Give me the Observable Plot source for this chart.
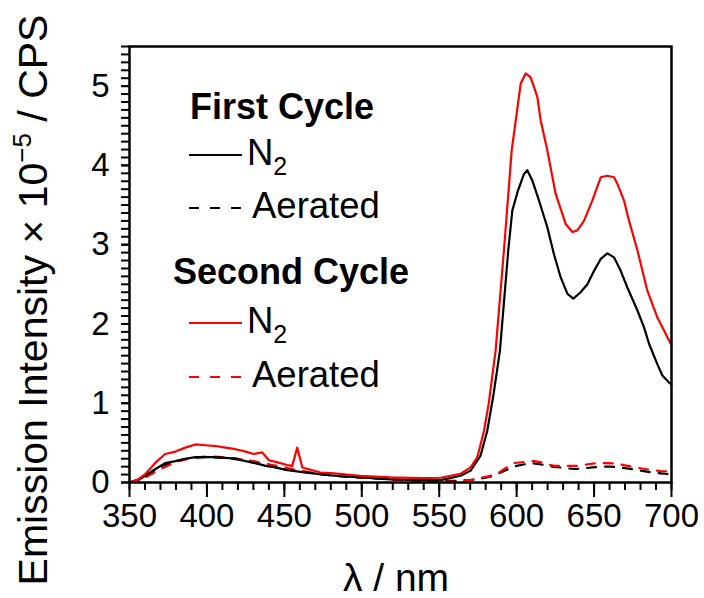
<!DOCTYPE html>
<html><head><meta charset="utf-8">
<script src="https://cdn.jsdelivr.net/npm/d3@7"></script>
<script src="https://cdn.jsdelivr.net/npm/@observablehq/plot@0.6"></script>
<style>
body{margin:0;background:#fff;}
svg{font-family:"Liberation Sans",Arial,sans-serif;}
</style>
</head><body><div id="chart"></div>
<script>
// First cycle, N2 (black solid)
const wlFirstN2 = [350,355,360,366.8,373,379.7,386,392.6,399,405.6,412,418.5,425,431.4,437.9,444.3,450.8,460.5,480,499,518.6,538,551,563.8,570.3,576.7,581,585,589.2,594.6,597.2,600.8,604.7,606.9,610.1,614.4,619.8,624.1,628.4,632.8,636.6,641.3,645.7,650,654.3,658.6,662.9,667.2,671.5,678,682.2,685.5,690.9,694.1,698.4,700];
const valFirstN2 = [0,0.02,0.085,0.17,0.245,0.27,0.30,0.32,0.32,0.32,0.31,0.30,0.27,0.245,0.21,0.19,0.16,0.135,0.09,0.065,0.04,0.03,0.03,0.085,0.15,0.34,0.65,1.1,1.66,2.93,3.43,3.68,3.89,3.94,3.81,3.56,3.22,2.88,2.59,2.38,2.32,2.40,2.50,2.67,2.82,2.89,2.84,2.67,2.46,2.17,1.96,1.75,1.49,1.35,1.26,1.24];

// First cycle, aerated (black dashed)
const wlFirstAir = [350,360,370,380,390,400,410,420,430,440,450,460,470,480,490,500,510,520,530,540,550,560,570,580,585.3,590,596,600,609,615,624,630,637,642,648.9,655,660.7,667,674.7,680,687.6,693,698.4,700];
const valFirstAir = [0,0.07,0.2,0.27,0.31,0.32,0.31,0.29,0.25,0.21,0.17,0.14,0.11,0.09,0.07,0.06,0.05,0.04,0.03,0.02,0.02,0.02,0.03,0.06,0.085,0.13,0.18,0.21,0.245,0.23,0.198,0.185,0.17,0.175,0.19,0.20,0.20,0.19,0.169,0.15,0.126,0.115,0.106,0.10];

// Second cycle, N2 (red solid)
const wlSecondN2 = [350,355,360.3,366.8,373,379.7,386,392.6,399,405.6,412,418.5,425,430.3,435.7,440,444.3,451.9,455.1,458.3,461.6,467,473.4,480,499,518.6,538,551,557.4,563.8,570.3,574.6,576.7,578.9,582,586.4,591.8,596.8,600,602.6,605.8,609,611.2,613.4,615.5,619.8,625.2,631.7,636,639.2,643.5,648.9,654.3,658.6,662.9,665,669.3,672.6,678,684.4,690.9,699.5,700];
const valSecondN2 = [0,0.03,0.11,0.25,0.36,0.39,0.44,0.48,0.47,0.46,0.44,0.42,0.39,0.36,0.38,0.28,0.26,0.22,0.21,0.44,0.19,0.16,0.126,0.12,0.085,0.065,0.055,0.06,0.085,0.11,0.19,0.32,0.48,0.65,1.0,1.66,2.93,4.19,4.65,5.03,5.16,5.11,4.99,4.86,4.57,4.19,3.64,3.26,3.16,3.18,3.30,3.56,3.85,3.87,3.85,3.77,3.56,3.30,2.93,2.42,2.08,1.75,1.74];

// Second cycle, aerated (red dashed)
const wlSecondAir = [350,360,370,380,390,400,410,420,430,440,450,460,470,480,490,500,510,520,530,540,550,560,570,580,587.5,592,598.3,605,611.2,617,624,630,640.3,646,652,658,664,669,674.7,680,687.6,693,698.4,700];
const valSecondAir = [0,0.06,0.17,0.26,0.31,0.33,0.32,0.30,0.27,0.23,0.19,0.15,0.12,0.10,0.08,0.06,0.05,0.04,0.03,0.02,0.01,0.01,0.03,0.07,0.11,0.17,0.245,0.26,0.27,0.25,0.21,0.21,0.21,0.23,0.245,0.245,0.24,0.22,0.198,0.18,0.156,0.145,0.139,0.13];

const xMajorTicks = [350,400,450,500,550,600,650,700];
const xMinorTicks = d3.range(350,701,10);
const yMajorTicks = [0,1,2,3,4,5];
const yMinorTicks = d3.range(0,56).map(i => i/10);

const legendTitles = ["First Cycle","Second Cycle"];
const legendEntries = ["N","Aerated"];
const colFirst = "#000000", colSecond = "#ff0000";
const dashLine = "9,9";

const toRows = (wl, v) => wl.map((x,i) => ({x, y: v[i]}));

const plot = Plot.plot({
  width: 704, height: 598,
  marginLeft: 129, marginRight: 33, marginTop: 46, marginBottom: 116,
  style: {fontFamily: "'Liberation Sans', Arial, sans-serif", background: "#fff"},
  x: {domain: [350,700]},
  y: {domain: [0,5.5]},
  marks: [
    Plot.axisX({ticks: xMinorTicks, tickSize: 8, text: null, strokeWidth: 2, label: null}),
    Plot.axisX({ticks: xMajorTicks, tickSize: 15, tickPadding: 6, strokeWidth: 2, fontSize: 33, label: null, tickFormat: d => String(d)}),
    Plot.axisY({ticks: yMinorTicks, tickSize: 8, text: null, strokeWidth: 2, label: null}),
    Plot.axisY({ticks: yMajorTicks, tickSize: 8, tickPadding: 12, strokeWidth: 2, fontSize: 33, label: null, tickFormat: d => String(d)}),
    Plot.line(toRows(wlFirstAir, valFirstAir), {x:"x", y:"y", stroke: colFirst, strokeWidth: 2.2, strokeDasharray: dashLine}),
    Plot.line(toRows(wlSecondAir, valSecondAir), {x:"x", y:"y", stroke: colSecond, strokeWidth: 2.2, strokeDasharray: dashLine}),
    Plot.line(toRows(wlFirstN2, valFirstN2), {x:"x", y:"y", stroke: colFirst, strokeWidth: 2.2}),
    Plot.line(toRows(wlSecondN2, valSecondN2), {x:"x", y:"y", stroke: colSecond, strokeWidth: 2.2}),
    Plot.frame({stroke: "#000", strokeWidth: 2.5})
  ]
});
document.getElementById("chart").appendChild(plot);

const svg = d3.select(plot);
svg.selectAll("text").attr("fill", "#000");
const ff = "'Liberation Sans', Arial, sans-serif";

// axis titles
svg.append("text").attr("x", 396).attr("y", 591).attr("text-anchor","middle")
  .attr("font-size", 39).attr("font-family", ff).text("λ / nm");
const yl = svg.append("text").attr("transform","translate(47,300) rotate(-90)")
  .attr("text-anchor","middle").attr("font-size", 41).attr("font-family", ff);
yl.append("tspan").text("Emission Intensity × 10");
yl.append("tspan").attr("font-size", 26).attr("dy", -16).text("−5");
yl.append("tspan").attr("dy", 16).text(" / CPS");

// legend
const lg = svg.append("g").attr("font-family", ff).attr("text-anchor", "start");
function entry(y, color, dash, label, sub) {
  lg.append("line").attr("x1",189).attr("x2",242).attr("y1",y).attr("y2",y)
    .attr("stroke",color).attr("stroke-width",2).attr("stroke-dasharray", dash || null);
  const t = lg.append("text").attr("x", sub ? 247 : 252).attr("y", y+10).attr("font-size", 36.5).attr("text-anchor","start");
  t.append("tspan").text(label);
  if (sub) t.append("tspan").attr("font-size", 25).attr("dy", 10).text(sub);
}
lg.append("text").attr("x",190).attr("y",119).attr("font-size",36).attr("font-weight","bold").attr("text-anchor","start").text(legendTitles[0]);
entry(155, colFirst, null, legendEntries[0], "2");
entry(208, colFirst, "10,11", legendEntries[1]);
lg.append("text").attr("x",173).attr("y",284).attr("font-size",36).attr("font-weight","bold").attr("text-anchor","start").text(legendTitles[1]);
entry(323, colSecond, null, legendEntries[0], "2");
entry(377, colSecond, "10,11", legendEntries[1]);
</script>
</body></html>
